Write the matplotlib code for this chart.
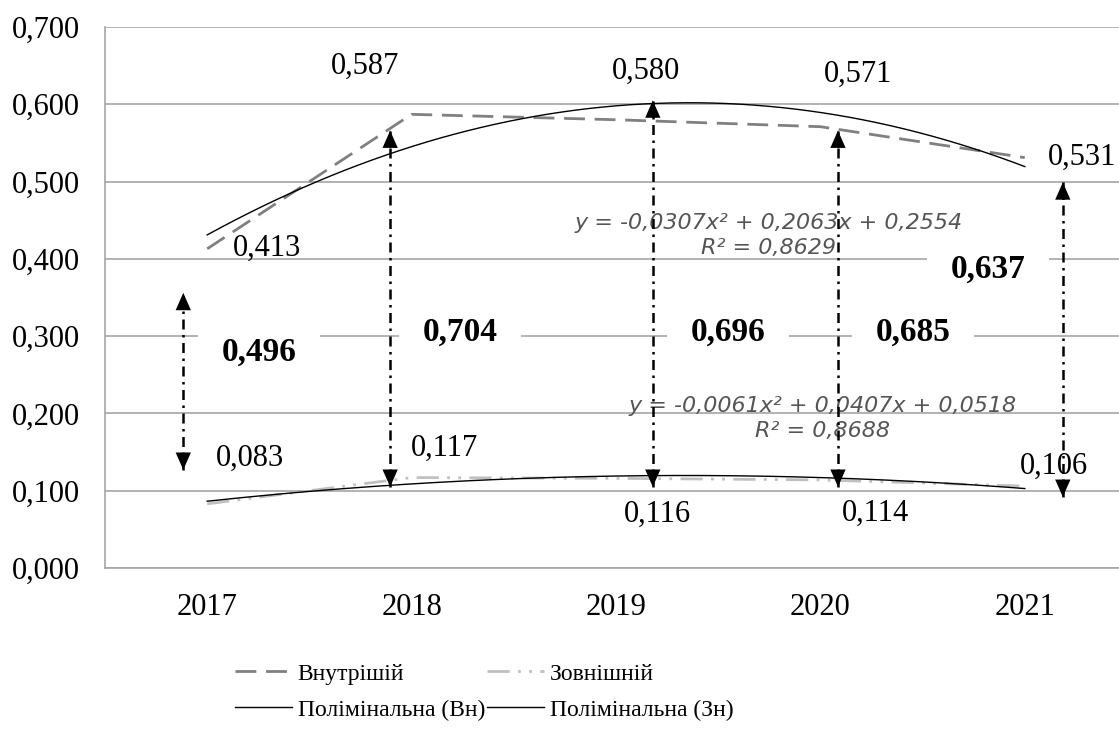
import numpy as np
import matplotlib
matplotlib.use("Agg")
import matplotlib.pyplot as plt
from matplotlib.ticker import FuncFormatter

# ---- data ----
years = ["2017", "2018", "2019", "2020", "2021"]
internal = [0.413, 0.587, 0.580, 0.571, 0.531]
external = [0.083, 0.117, 0.116, 0.114, 0.106]
ratio = [0.496, 0.704, 0.696, 0.685, 0.637]
trend_internal = [-0.0307, 0.2063, 0.2554]   # quadratic fit, x = 1..5
trend_external = [-0.0061, 0.0407, 0.0518]
r2_internal = 0.8629
r2_external = 0.8688
series_names = ["Внутрішій", "Зовнішній", "Полімінальна (Вн)", "Полімінальна (Зн)"]

# ---- annotation layout ----
# data-label offsets (pixels) relative to each point
internal_label_offsets = [(60, 0), (-47, 48), (30, 48), (38, 52), (57, 0)]
external_label_offsets = [(43, 46), (33, 29), (41, -36), (55, -33), (29, 20)]
# double-headed arrows: x position, top and bottom value
arrow_x = [-0.117, 0.895, 2.18, 3.086, 4.186]
arrow_top = [0.356, 0.566, 0.605, 0.566, 0.499]
arrow_bottom = [0.127, 0.105, 0.105, 0.105, 0.092]
# ratio label centres
ratio_x = [0.254, 1.237, 2.548, 3.452, 3.819]
ratio_y = [0.2794, 0.3053, 0.3053, 0.3053, 0.3868]
# trendline equation centres
eq_pos_internal = (2.748, 0.430)
eq_pos_external = (3.012, 0.1930)

SERIF = ["Liberation Serif", "DejaVu Serif"]
plt.rcParams["font.family"] = SERIF


def ua(v, d=3):
    return f"{v:.{d}f}".replace(".", ",")


def equation(coefs, r2):
    a, b, c = coefs
    sa = ua(a, 4)
    sb = ("+ " if b >= 0 else "- ") + ua(abs(b), 4)
    sc = ("+ " if c >= 0 else "- ") + ua(abs(c), 4)
    return f"y = {sa}x² {sb}x {sc}\nR² = {ua(r2, 4)}"


W, H = 1119, 736
fig = plt.figure(figsize=(W / 100, H / 100), dpi=100)
ax = fig.add_axes([105 / W, 168 / H, 1022 / W, 541 / H])

x = np.arange(len(years))
ax.set_xlim(-0.5, 4.5)
ax.set_ylim(0, 0.7)
ax.set_xticks(x)
ax.set_xticklabels(years)
ax.set_yticks(np.round(np.arange(0, 0.71, 0.1), 1))
ax.yaxis.set_major_formatter(FuncFormatter(lambda v, _: ua(v)))

grid_col = "#a6a6a6"
ax.grid(axis="y", color=grid_col, lw=1.2, zorder=0)
ax.set_axisbelow(True)
for s in ["top", "right"]:
    ax.spines[s].set_visible(False)
for s in ["left", "bottom"]:
    ax.spines[s].set_color(grid_col)
    ax.spines[s].set_linewidth(1.2)
ax.tick_params(axis="both", length=0, labelsize=22)
ax.tick_params(axis="y", pad=18)
ax.tick_params(axis="x", pad=18)

# series
l_int, = ax.plot(x, internal, color="#808080", lw=2.0, dashes=(7.5, 3.5),
                 zorder=3)
l_ext, = ax.plot(x, external, color="#c0c0c0", lw=2.0,
                 dashes=(8, 3, 1, 3, 1, 3), zorder=3)

# polynomial trendlines
xs = np.linspace(1, 5, 300)
t_int, = ax.plot(xs - 1, np.polyval(trend_internal, xs), color="black", lw=1.0, zorder=4)
t_ext, = ax.plot(xs - 1, np.polyval(trend_external, xs), color="black", lw=1.0, zorder=4)

# data labels
for offsets, values in [(internal_label_offsets, internal),
                        (external_label_offsets, external)]:
    for i, v in enumerate(values):
        ax.annotate(ua(v), (x[i], v), xytext=offsets[i],
                    textcoords="offset pixels", ha="center", va="center",
                    fontsize=22, zorder=6)

# trendline equations
for (ex, ey), coefs, r2 in [(eq_pos_internal, trend_internal, r2_internal),
                            (eq_pos_external, trend_external, r2_external)]:
    ax.text(ex, ey, equation(coefs, r2), ha="center", va="center",
            fontsize=16, style="italic", family="DejaVu Sans",
            color="#555555", linespacing=1.3, zorder=7)

# ratio labels on white patches
for rx, ry, r in zip(ratio_x, ratio_y, ratio):
    ax.text(rx, ry, ua(r), ha="center", va="center", fontsize=24,
            fontweight="bold", zorder=5,
            bbox=dict(boxstyle="square,pad=0.7", fc="white", ec="none"))

# double-headed dash-dot arrows: dashed shaft plus solid heads
head = dict(arrowstyle="-|>,head_length=12.5,head_width=5.5", mutation_scale=1,
            color="black", lw=0, shrinkA=0, shrinkB=0)
for axx, top, bot in zip(arrow_x, arrow_top, arrow_bottom):
    ax.plot([axx, axx], [bot, top], color="black", lw=1.8,
            dashes=(4, 2.2, 1, 2.2), zorder=8)
    ax.annotate("", xy=(axx, top), xytext=(0, -14), textcoords="offset points",
                arrowprops=head, zorder=9)
    ax.annotate("", xy=(axx, bot), xytext=(0, 14), textcoords="offset points",
                arrowprops=head, zorder=9)

# legend
handles = [l_int, t_int, l_ext, t_ext]
labels = [series_names[0], series_names[2], series_names[1], series_names[3]]
fig.legend(handles, labels, loc="upper left",
           bbox_to_anchor=(235 / W, 1 - 663 / H), ncol=2, frameon=False,
           prop={"family": "Liberation Serif", "size": 17},
           handlelength=2.4, handletextpad=0.25,
           columnspacing=0.1, labelspacing=0.62, borderaxespad=0, borderpad=0)

fig.savefig("out.png", dpi=100)
